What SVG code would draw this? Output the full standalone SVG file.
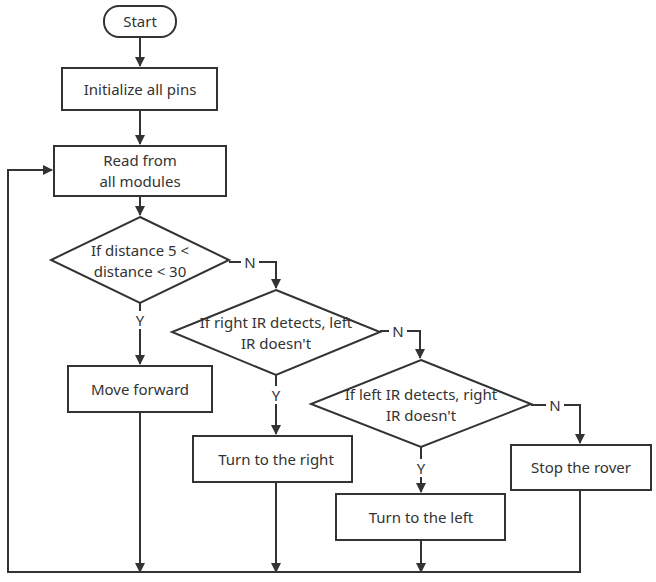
<svg xmlns="http://www.w3.org/2000/svg" width="656" height="582" viewBox="0 0 656 582">
<style>
.n{fill:#fff;stroke:#333;stroke-width:2}
.t{font-family:"Noto Sans","Liberation Sans",sans-serif;font-size:15px;fill:#333;text-anchor:middle;dominant-baseline:central}
.c{fill:none;stroke:#333;stroke-width:2}
</style>
<defs><marker id="a" markerWidth="10" markerHeight="10" refX="9" refY="5" orient="auto" markerUnits="userSpaceOnUse"><path d="M0,0L10,5L0,10z" fill="#333"/></marker></defs>
<rect width="656" height="582" fill="#fff"/>
<g id="connectors">
<path class="c" d="M140,37V66" marker-end="url(#a)"/>
<path class="c" d="M140,110V144" marker-end="url(#a)"/>
<path class="c" d="M140,196V215" marker-end="url(#a)"/>
<path class="c" d="M229,262H276V288" marker-end="url(#a)"/>
<path class="c" d="M140,303V364" marker-end="url(#a)"/>
<path class="c" d="M380,331H420V358" marker-end="url(#a)"/>
<path class="c" d="M276,375V434" marker-end="url(#a)"/>
<path class="c" d="M531,405H580V443" marker-end="url(#a)"/>
<path class="c" d="M421,447V492" marker-end="url(#a)"/>
<path class="c" d="M140,412V572" marker-end="url(#a)"/>
<path class="c" d="M276,482V572" marker-end="url(#a)"/>
<path class="c" d="M421,540V572" marker-end="url(#a)"/>
<path class="c" d="M580,490V572H8V170H52" marker-end="url(#a)"/>
<rect x="241" y="253" width="18" height="18" fill="#fff"/><text class="t" x="250" y="262">N</text>
<rect x="131" y="311" width="18" height="18" fill="#fff"/><text class="t" x="140" y="320">Y</text>
<rect x="389" y="322" width="18" height="18" fill="#fff"/><text class="t" x="398" y="331">N</text>
<rect x="267" y="386" width="18" height="18" fill="#fff"/><text class="t" x="276" y="395">Y</text>
<rect x="546" y="396" width="18" height="18" fill="#fff"/><text class="t" x="555" y="405">N</text>
<rect x="412" y="459" width="18" height="18" fill="#fff"/><text class="t" x="421" y="468">Y</text>
</g>
<g id="start"><rect class="n" x="104" y="6" width="72" height="31" rx="15"/><text class="t" x="140" y="21">Start</text></g>
<g id="init"><rect class="n" x="62" y="68" width="155" height="42"/><text class="t" x="140" y="89">Initialize all pins</text></g>
<g id="read"><rect class="n" x="54" y="146" width="172" height="50"/><text class="t" x="140" y="160">Read from</text><text class="t" x="140" y="181">all modules</text></g>
<g id="d1"><polygon class="n" points="140,217 229,260 140,303 51,260"/><text class="t" x="140" y="250">If distance 5 &lt;</text><text class="t" x="140" y="271">distance &lt; 30</text></g>
<g id="fwd"><rect class="n" x="68" y="366" width="144" height="46"/><text class="t" x="140" y="389">Move forward</text></g>
<g id="d2"><polygon class="n" points="276,290 380,332 276,375 172,332"/><text class="t" x="276" y="322">If right IR detects, left</text><text class="t" x="276" y="343">IR doesn't</text></g>
<g id="right"><rect class="n" x="193" y="436" width="159" height="46"/><text class="t" x="276" y="459">Turn to the right</text></g>
<g id="d3"><polygon class="n" points="421,360 531,404 421,447 311,404"/><text class="t" x="421" y="394">If left IR detects, right</text><text class="t" x="421" y="415">IR doesn't</text></g>
<g id="stop"><rect class="n" x="511" y="445" width="140" height="45"/><text class="t" x="581" y="467">Stop the rover</text></g>
<g id="left"><rect class="n" x="336" y="494" width="169" height="46"/><text class="t" x="421" y="517">Turn to the left</text></g>
</svg>
